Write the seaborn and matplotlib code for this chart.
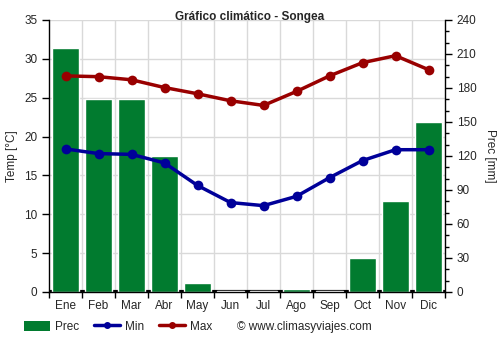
import matplotlib
matplotlib.use("Agg")
import matplotlib.pyplot as plt
import seaborn as sns
import pandas as pd
import numpy as np
from matplotlib.patches import Patch
from matplotlib.lines import Line2D

months = ["Ene", "Feb", "Mar", "Abr", "May", "Jun", "Jul", "Ago", "Sep", "Oct", "Nov", "Dic"]
prec = [215, 170, 170, 120, 8, 1, 1, 3, 1, 30, 80, 150]
tmin = [18.4, 17.8, 17.7, 16.6, 13.7, 11.5, 11.1, 12.3, 14.7, 16.9, 18.3, 18.3]
tmax = [27.8, 27.7, 27.3, 26.3, 25.5, 24.6, 24.0, 25.8, 27.8, 29.5, 30.4, 28.6]

df = pd.DataFrame({"month": months, "prec": prec, "tmin": tmin, "tmax": tmax})

sns.set_theme(style="white")
plt.rcParams["font.family"] = ["Liberation Sans", "DejaVu Sans"]

GREEN = "#017B2F"
BLUE = "#000099"
RED = "#990000"

fig = plt.figure(figsize=(5, 3.5), dpi=100)
ax = fig.add_axes([0.098, 0.166, 0.792, 0.777])  # precipitation axis (right scale)
ax2 = ax.twinx()  # temperature axis (left scale)

# grid
for t in range(5, 36, 5):
    ax.axhline(t * 240 / 35, color="#d9d9d9", lw=1, zorder=0)
for xb in np.arange(0.5, 11.5, 1):
    ax.axvline(xb, color="#d9d9d9", lw=1, zorder=0)
ax.axhline(0, color="black", lw=3, zorder=1)

sns.barplot(data=df, x="month", y="prec", color=GREEN, saturation=1, width=0.82,
            ax=ax, zorder=2)
sns.lineplot(x=np.arange(12), y=df["tmax"], color=RED, lw=2.5, marker="o", markersize=7,
             markeredgewidth=0, ax=ax2)
sns.lineplot(x=np.arange(12), y=df["tmin"], color=BLUE, lw=2.5, marker="o", markersize=7,
             markeredgewidth=0, ax=ax2)

ax.set_xlim(-0.5, 11.5)
ax2.set_xlim(-0.5, 11.5)
ax.set_ylim(0, 240)
ax2.set_ylim(0, 35)

# precipitation axis on the right
ax.yaxis.tick_right()
ax.yaxis.set_label_position("right")
ax.set_yticks(range(0, 241, 30))
ax.set_yticks(range(0, 241, 10), minor=True)
ax.set_ylabel("Prec [mm]", rotation=270, labelpad=14, fontsize=8.5)
ax.set_xlabel("")
ax.set_xticks(np.arange(-0.5, 12, 1))
ax.set_xticklabels([])
ax.set_xticks(np.arange(12), minor=True)
ax.set_xticklabels(months, minor=True)
ax.tick_params(axis="x", which="major", length=4, width=1, color="black", direction="out", bottom=True)
ax.tick_params(axis="x", which="minor", length=0, labelsize=8.5, pad=6)
ax.tick_params(axis="y", which="major", length=5, width=1, color="black", direction="out",
               right=True, left=False, labelright=True, labelleft=False, labelsize=8.5)
ax.tick_params(axis="y", which="minor", length=3, width=1, color="black", direction="out",
               right=True, left=False, labelleft=False)
for s in ["top", "left"]:
    ax.spines[s].set_visible(False)
for s in ["right", "bottom"]:
    ax.spines[s].set_color("black")
    ax.spines[s].set_linewidth(1)

# temperature axis on the left
ax2.set_yticks(range(0, 36, 5))
ax2.yaxis.tick_left()
ax2.yaxis.set_label_position("left")
ax2.set_ylabel("Temp [°C]", fontsize=8.5, labelpad=4)
ax2.set_xlabel("")
ax2.tick_params(axis="y", which="major", length=5, width=1, color="black", direction="out",
                left=True, right=False, labelsize=8.5, labelleft=True, labelright=False)
for s in ["top", "right", "bottom"]:
    ax2.spines[s].set_visible(False)
ax2.spines["left"].set_visible(True)
ax2.spines["left"].set_color("black")
ax2.spines["left"].set_linewidth(1)

fig.text(0.5, 0.951, "Gráfico climático - Songea", ha="center", va="center", fontsize=8.5, fontweight="bold")

handles = [Patch(facecolor=GREEN, edgecolor="none"),
           Line2D([0], [0], color=BLUE, lw=2.5, marker="o", markersize=4),
           Line2D([0], [0], color=RED, lw=2.5, marker="o", markersize=4)]
fig.legend(handles, ["Prec", "Min", "Max"], loc="center left", bbox_to_anchor=(0.048, 0.066),
           ncol=3, frameon=False, fontsize=8.5, handlelength=2.2, handleheight=1.0,
           columnspacing=1.3, handletextpad=0.4, borderaxespad=0, borderpad=0)
fig.text(0.474, 0.066, "© www.climasyviajes.com", ha="left", va="center", fontsize=8.5)

fig.savefig("out.png", dpi=100)
